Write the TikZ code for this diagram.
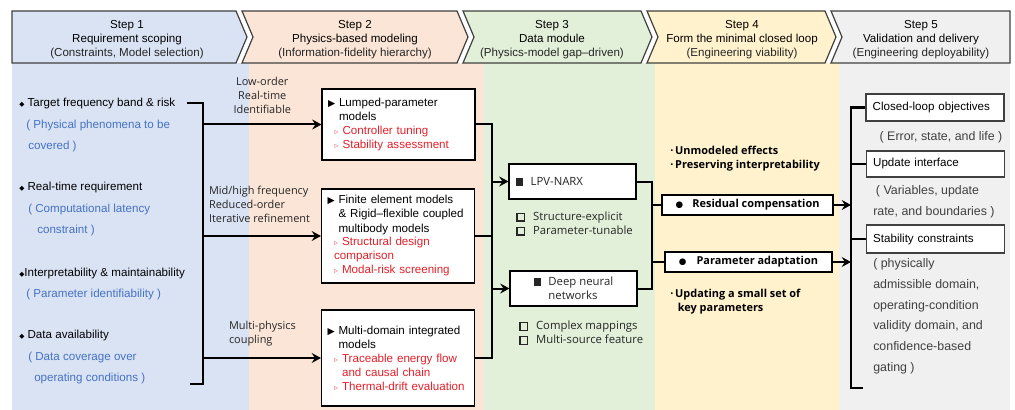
\documentclass[tikz,border=0pt]{standalone}
\usepackage{fontspec}
\setmainfont{Liberation Sans}
\newfontfamily\yhfont{Open Sans}
\newfontfamily\symfont{DejaVu Sans}
\usetikzlibrary{arrows.meta,positioning,calc}

\definecolor{colA}{HTML}{DAE3F3}
\definecolor{colB}{HTML}{FBE5D6}
\definecolor{colC}{HTML}{E2F0D9}
\definecolor{colD}{HTML}{FFF2CC}
\definecolor{colE}{HTML}{F0F0F0}
\definecolor{hintblue}{HTML}{4472C4}
\definecolor{notered}{HTML}{E3202A}
\definecolor{framegray}{HTML}{404040}
\definecolor{inkgray}{HTML}{262626}

\newcommand{\hint}[1]{{\color{hintblue}#1}}
\newcommand{\redtext}[1]{{\color{notered}#1}}
\newcommand{\fillsq}{\rule{5.5pt}{5.5pt}}
\newcommand{\hollowsq}{{\setlength\fboxsep{0pt}\setlength\fboxrule{1pt}\fbox{\rule{0pt}{4.6pt}\hspace{4.6pt}}}}
\newcommand{\headmark}{{\symfont\fontsize{7}{7}\selectfont ▶}}
\newcommand{\redmark}{{\symfont\fontsize{6}{6}\selectfont\color{notered!70}▹}}
\newcommand{\dotmark}{{\symfont\fontsize{6.5}{6.5}\selectfont ●}}
\newcommand{\diamark}{{\symfont\fontsize{5}{5}\selectfont ◆}}

\tikzset{
  chevron/.style={draw=framegray, line width=0.9pt, line join=miter},
  headtext/.style={align=center, inner sep=0pt, font=\fontsize{8.7}{10.7}\selectfont},
  reqitem/.style={anchor=base west, align=left, inner sep=0pt, font=\fontsize{8.7}{16}\selectfont},
  modelbox/.style={draw=black, fill=white, line width=0.8pt, text width=105.75pt,
    inner xsep=4.5pt, align=left, font=\fontsize{8.7}{10.5}\selectfont},
  databox/.style={draw=black, fill=white, line width=0.8pt, minimum width=95.25pt,
    minimum height=26.25pt, inner sep=2pt, text=inkgray, font=\yhfont\fontsize{8.5}{10.5}\selectfont},
  dataitem/.style={anchor=base west, align=left, inner sep=0pt, text=inkgray,
    font=\yhfont\fontsize{8.5}{10.5}\selectfont},
  loopbox/.style={draw=black, fill=white, line width=0.8pt, minimum height=15pt,
    inner sep=1pt, font=\yhfont\bfseries\fontsize{8.2}{10}\selectfont},
  loopitem/.style={anchor=base west, align=left, inner sep=0pt,
    font=\yhfont\bfseries\fontsize{8.2}{10.5}\selectfont},
  goalbox/.style={draw=framegray, fill=white, line width=0.8pt, text width=93.5pt,
    inner xsep=5pt, align=left, font=\fontsize{8.7}{10}\selectfont},
  goalitem/.style={anchor=base west, align=left, inner sep=0pt, text=framegray,
    font=\fontsize{9.3}{15.6}\selectfont},
  edgelabel/.style={inner sep=0pt, text=inkgray, font=\yhfont\fontsize{8.2}{10.5}\selectfont},
  flow/.style={-{Stealth[length=7pt,width=7.5pt,inset=2.5pt]}, line width=1.5pt},
  link/.style={line width=1.5pt},
  bracket/.style={line width=2pt}
}

\begin{document}
\begin{tikzpicture}[x=0.75pt,y=-0.75pt]
\fill[white] (0,0) rectangle (1015,410);
\useasboundingbox (0,0) rectangle (1015,410);

% Fondo de las cinco columnas
\fill[colA] (12,63) rectangle (249,410);
\fill[colB] (249,63) rectangle (484,410);
\fill[colC] (484,63) rectangle (655,410);
\fill[colD] (655,63) rectangle (839,410);
\fill[colE] (839,63) rectangle (1010,410);

% Cabeceras en forma de flecha
\filldraw[chevron, fill=colA] (12,11) -- (236,11) -- (247,37) -- (236,63) -- (12,63) -- cycle;
\filldraw[chevron, fill=colB] (242,11) -- (457,11) -- (468,37) -- (457,63) -- (242,63) -- (253,37) -- cycle;
\filldraw[chevron, fill=colC] (463,11) -- (641,11) -- (652,37) -- (641,63) -- (463,63) -- (474,37) -- cycle;
\filldraw[chevron, fill=colD] (647,11) -- (825,11) -- (836,37) -- (825,63) -- (647,63) -- (658,37) -- cycle;
\filldraw[chevron, fill=colE] (831,11) -- (1010,11) -- (1010,63) -- (831,63) -- (842,37) -- cycle;

\node[headtext] (hdA) at (127,39.5) {Step 1\\Requirement scoping\\{\color{inkgray}(Constraints, Model selection)}};
\node[headtext] (hdB) at (355,39.5) {Step 2\\Physics-based modeling\\{\color{inkgray}(Information-fidelity hierarchy)}};
\node[headtext] (hdC) at (552,39.5) {Step 3\\Data module\\{\color{inkgray}(Physics-model gap--driven)}};
\node[headtext] (hdD) at (742,39.5) {Step 4\\Form the minimal closed loop\\{\color{inkgray}(Engineering viability)}};
\node[headtext] (hdE) at (921,39.5) {Step 5\\Validation and delivery\\{\color{inkgray}(Engineering deployability)}};

% Paso 1: requisitos (ancla en la linea de base de la ultima linea)
\node[reqitem] (reqA) at (19,149.5) {\diamark\ Target frequency band \& risk\\
  \hspace*{5.25pt}\hint{(\ Physical phenomena to be}\\
  \hspace*{6.75pt}\hint{covered )}};
\node[reqitem] (reqB) at (19,233.5) {\diamark\ Real-time requirement\\
  \hspace*{6.75pt}\hint{(\ Computational latency}\\
  \hspace*{13.5pt}\hint{constraint )}};
\node[reqitem] (reqC) at (19,297.5) {\diamark Interpretability \& maintainability\\
  \hspace*{5.25pt}\hint{(\ Parameter identifiability\ )}};
\node[reqitem] (reqD) at (19,381.5) {\diamark\ Data availability\\
  \hspace*{6.75pt}\hint{(\ Data coverage over}\\
  \hspace*{11.25pt}\hint{operating conditions\ )}};

\coordinate (brTop) at (187,103);
\coordinate (busA) at (203,103);
\coordinate (busAend) at (203,384);
\coordinate (brBot) at (190,384);
\draw[bracket] (brTop) -- (busA) -- (busAend) -- (brBot);

% Paso 2: modelos fisicos
\node[modelbox, minimum height=53.25pt] (lumpA) at (398.5,124.5)
  {\headmark\ Lumped-parameter\\
   \phantom{\headmark\ }models\\
   \hspace*{5pt}\redmark\ \redtext{Controller tuning}\\
   \hspace*{5pt}\redmark\ \redtext{Stability assessment}};
\node[modelbox, minimum height=70.5pt] (feA) at (398,236)
  {\headmark\ Finite element models\\
   \phantom{\headmark}\ \& Rigid--flexible coupled\\
   \phantom{\headmark\ }multibody models\\
   \hspace*{5pt}\redmark\ \redtext{Structural design}\\
   \hspace*{5pt}\redtext{comparison}\\
   \hspace*{5pt}\redmark\ \redtext{Modal-risk screening}};
\node[modelbox, minimum height=72pt] (multiA) at (398,358)
  {\headmark\ Multi-domain integrated\\
   \phantom{\headmark\ }models\\
   \hspace*{5pt}\redmark\ \redtext{Traceable energy flow}\\
   \hspace*{5pt}\phantom{\redmark\ }\redtext{and causal chain}\\
   \hspace*{5pt}\redmark\ \redtext{Thermal-drift evaluation}};

\draw[flow] (lumpA.west -| busA) -- (lumpA.west)
  node[edgelabel, midway, above=7.5pt, align=center] (lblLow) {Low-order\\Real-time\\Identifiable};
\draw[flow] (feA.west -| busA) -- (feA.west)
  node[edgelabel, pos=0, anchor=south west, xshift=3.75pt, yshift=9pt, align=left] (lblMid)
  {Mid/high frequency\\Reduced-order\\Iterative refinement};
\draw[flow] (multiA.west -| busA) -- (multiA.west)
  node[edgelabel, pos=0, anchor=south west, xshift=18.75pt, yshift=8.4pt, align=left] (lblMP)
  {Multi-physics\\coupling};

% Paso 3: modulo de datos
\node[databox, text width=84.75pt, inner xsep=5.25pt, align=left] (lpvA) at (572.5,181.5)
  {\fillsq\hspace{5.5pt}LPV-NARX};
\node[databox, align=left] (dnnA) at (573.5,288.5)
  {\fillsq\hspace{5.5pt}Deep neural\\\phantom{\fillsq\hspace{5.5pt}}networks};
\node[dataitem] (lpvNote) at (516,234.5)
  {\hollowsq\hspace{6pt}Structure-explicit\\\hollowsq\hspace{6pt}Parameter-tunable};
\node[dataitem] (dnnNote) at (519,343.5)
  {\hollowsq\hspace{6pt}Complex mappings\\\hollowsq\hspace{6pt}Multi-source feature};

\coordinate (busB) at (492,124);
\draw[link] (lumpA.east) -- (lumpA.east -| busB) -- (multiA.east -| busB) -- (multiA.east);
\draw[link] (feA.east) -- (feA.east -| busB);
\draw[flow] (lpvA.west -| busB) -- (lpvA.west);
\draw[flow] (dnnA.west -| busB) -- (dnnA.west);

% Paso 4: lazo cerrado minimo
\node[loopbox, minimum width=128.25pt] (resA) at (747.5,205)
  {\dotmark\hspace{7pt}Residual compensation};
\node[loopbox, minimum width=125.25pt] (parA) at (748.5,262)
  {\dotmark\hspace{7.5pt}Parameter adaptation};
\node[loopitem] (resNote) at (670,168.5)
  {·\,Unmodeled effects\\·\,Preserving interpretability};
\node[loopitem] (parNote) at (670,311.5)
  {·\,Updating a small set of\\\phantom{·\,}\hspace{2pt}key parameters};

\coordinate (busC) at (652,182);
\draw[link] (lpvA.east) -- (lpvA.east -| busC) -- (dnnA.east -| busC) -- (dnnA.east);
\draw[link] (resA.west -| busC) -- (resA.west);
\draw[link] (parA.west -| busC) -- (parA.west);

% Paso 5: validacion y entrega
\node[goalbox, minimum height=20.25pt] (goalA) at (935,107.5) {Closed-loop objectives};
\node[goalbox, minimum height=19.5pt] (updA) at (935.5,164) {Update interface};
\node[goalbox, minimum height=21pt] (stabA) at (935.5,239) {Stability constraints};
\node[goalitem, anchor=base, text=framegray] (goalNote) at (941,141) {(\ Error, state, and life\ )};
\node[goalitem] (updNote) at (873,215.5) {\hspace*{2pt}(\ Variables, update\\rate, and boundaries\ )};
\node[goalitem] (stabNote) at (873,371.5)
  {(\ physically\\admissible domain,\\operating-condition\\validity domain, and\\confidence-based\\gating\ )};

\coordinate (busD) at (851,107);
\coordinate (busDend) at (851,388);
\coordinate (brTick) at (863,388);
\draw[bracket] (goalA.west) -- (goalA.west -| busD) -- (busDend) -- (brTick);
\draw[link] (updA.west -| busD) -- (updA.west);
\draw[link] (stabA.west -| busD) -- (stabA.west);
\draw[flow] (resA.east) -- (resA.east -| busD);
\draw[flow] (parA.east) -- (parA.east -| busD);

\end{tikzpicture}
\end{document}
